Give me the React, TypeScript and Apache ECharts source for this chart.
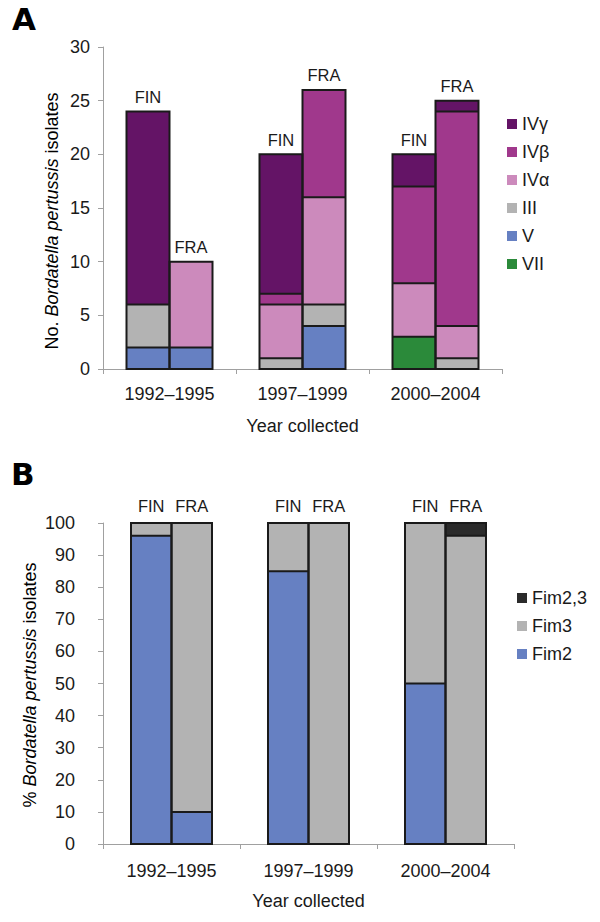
import React, { useEffect, useRef } from "react";
import * as echarts from "echarts";

// ---------- Data ----------
const years = ["1992–1995", "1997–1999", "2000–2004"];
const countries = ["FIN", "FRA"];

// Panel A: number of isolates (stack order bottom -> top)
const typesA = ["VII", "V", "III", "IVα", "IVβ", "IVγ"];
const legendA = ["IVγ", "IVβ", "IVα", "III", "V", "VII"];
const colorsA = ["#2b8a3a", "#6680c2", "#b3b3b3", "#cc8abc", "#a0388c", "#641466"];
const finVII = [0, 0, 3];
const finV = [2, 0, 0];
const finIII = [4, 1, 0];
const finIValpha = [0, 5, 5];
const finIVbeta = [0, 1, 9];
const finIVgamma = [18, 13, 3];
const fraVII = [0, 0, 0];
const fraV = [2, 4, 0];
const fraIII = [0, 2, 1];
const fraIValpha = [8, 10, 3];
const fraIVbeta = [0, 10, 20];
const fraIVgamma = [0, 0, 1];
const yTicksA = { min: 0, max: 30, interval: 5 };

// Panel B: percentage of isolates (stack order bottom -> top)
const typesB = ["Fim2", "Fim3", "Fim2,3"];
const legendB = ["Fim2,3", "Fim3", "Fim2"];
const colorsB = ["#6680c2", "#b3b3b3", "#2b2b2b"];
const finFim2 = [96, 85, 50];
const finFim3 = [4, 15, 50];
const finFim23 = [0, 0, 0];
const fraFim2 = [10, 0, 0];
const fraFim3 = [90, 100, 96];
const fraFim23 = [0, 0, 4];
const yTicksB = { min: 0, max: 100, interval: 10 };

const FONT = '"Liberation Sans", Arial, Helvetica, sans-serif';
const TXT = "#1a1a1a";
const AXIS = "#a0a0a0";
const EDGE = "#1a1a1a";
const FS = 18;

export default function App() {
  const ref = useRef<HTMLDivElement>(null);

  useEffect(() => {
    if (!ref.current) return;
    const chart = echarts.init(ref.current, undefined, { renderer: "svg" });

    const dataA: Record<string, number[][]> = {
      FIN: [finVII, finV, finIII, finIValpha, finIVbeta, finIVgamma],
      FRA: [fraVII, fraV, fraIII, fraIValpha, fraIVbeta, fraIVgamma],
    };
    const dataB: Record<string, number[][]> = {
      FIN: [finFim2, finFim3, finFim23],
      FRA: [fraFim2, fraFim3, fraFim23],
    };

    const series: any[] = [];
    const addPanel = (
      idx: number,
      types: string[],
      colors: string[],
      data: Record<string, number[][]>,
      barWidth: number,
      labelDist: number
    ) => {
      // filled segments
      countries.forEach((c) => {
        types.forEach((t, i) => {
          series.push({
            type: "bar",
            name: t,
            stack: c + idx,
            xAxisIndex: idx,
            yAxisIndex: idx,
            barWidth,
            barGap: "0%",
            data: data[c][i].map((v) => (v === 0 ? "-" : v)),
            itemStyle: { color: colors[i], borderWidth: 0 },
            emphasis: { disabled: true },
            silent: true,
          });
        });
        // FIN / FRA label on top of each stack
        series.push({
          type: "bar",
          name: c + " label " + idx,
          stack: c + idx,
          xAxisIndex: idx,
          yAxisIndex: idx,
          barWidth,
          barGap: "0%",
          data: years.map(() => 0),
          itemStyle: { color: "transparent", borderWidth: 0 },
          label: {
            show: true,
            position: "top",
            distance: labelDist,
            formatter: c,
            fontSize: 16.5,
            fontFamily: FONT,
            color: TXT,
          },
          emphasis: { disabled: true },
          silent: true,
        });
      });

      // outlines: cumulative boundaries for each (year, country) stack
      const outlineData: number[][] = [];
      years.forEach((_, yi) => {
        countries.forEach((c, ci) => {
          let cum = 0;
          const row = [yi, ci];
          types.forEach((_, ti) => {
            cum += data[c][ti][yi];
            row.push(cum);
          });
          outlineData.push(row);
        });
      });
      const n = types.length;
      series.push({
        type: "custom",
        name: "outline " + idx,
        xAxisIndex: idx,
        yAxisIndex: idx,
        silent: true,
        z: 5,
        encode: { x: 0, y: 1 + n },
        data: outlineData,
        renderItem: (params: any, api: any) => {
          const cat = api.value(0);
          const side = api.value(1);
          const cums: number[] = [];
          for (let k = 0; k < n; k++) cums.push(api.value(2 + k));
          const total = cums[n - 1];
          const base = api.coord([cat, 0]);
          const x0 = base[0] + (side === 0 ? -barWidth : 0);
          const yTop = api.coord([cat, total])[1];
          const children: any[] = [
            {
              type: "rect",
              shape: { x: x0, y: yTop, width: barWidth, height: base[1] - yTop },
              style: { fill: "none", stroke: EDGE, lineWidth: 2 },
            },
          ];
          const seen: Record<string, boolean> = {};
          cums.forEach((v) => {
            if (v > 0 && v < total && !seen[v]) {
              seen[v] = true;
              const y = api.coord([cat, v])[1];
              children.push({
                type: "line",
                shape: { x1: x0, y1: y, x2: x0 + barWidth, y2: y },
                style: { stroke: EDGE, lineWidth: 2 },
              });
            }
          });
          return { type: "group", children };
        },
      });
    };
    addPanel(0, typesA, colorsA, dataA, 43, 6);
    addPanel(1, typesB, colorsB, dataB, 40.5, 9);

    const xAxis = (idx: number, margin: number) => ({
      type: "category",
      gridIndex: idx,
      data: years,
      axisLine: { show: true, lineStyle: { color: AXIS, width: 1 } },
      axisTick: { show: true, alignWithLabel: false, length: 5, lineStyle: { color: AXIS } },
      axisLabel: { fontSize: FS, fontFamily: FONT, color: TXT, margin, interval: 0 },
      name: "Year collected",
      nameLocation: "middle",
      nameGap: 48,
      nameTextStyle: { fontSize: FS, fontFamily: FONT, color: TXT },
    });
    const yAxis = (idx: number, t: { min: number; max: number; interval: number }, margin: number) => ({
      type: "value",
      gridIndex: idx,
      min: t.min,
      max: t.max,
      interval: t.interval,
      axisLine: { show: true, lineStyle: { color: AXIS, width: 1 } },
      axisTick: { show: true, length: 5, lineStyle: { color: AXIS } },
      splitLine: { show: false },
      axisLabel: { fontSize: FS, fontFamily: FONT, color: TXT, margin },
    });

    const rich = {
      n: { fontSize: FS, fontFamily: FONT, color: TXT },
      i: { fontSize: FS, fontFamily: FONT, color: TXT, fontStyle: "italic" },
    };

    const legendCommon = {
      orient: "vertical",
      itemWidth: 10,
      itemHeight: 10,
      itemGap: 10,
      icon: "rect",
      itemStyle: { borderWidth: 0 },
      textStyle: { fontSize: FS, fontFamily: FONT, color: TXT },
      selectedMode: false,
    };

    chart.setOption({
      animation: false,
      backgroundColor: "#ffffff",
      grid: [
        { left: 103, top: 47, width: 399, height: 322 },
        { left: 103, top: 523, width: 411, height: 321 },
      ],
      xAxis: [xAxis(0, 16), xAxis(1, 18)],
      yAxis: [yAxis(0, yTicksA, 13), yAxis(1, yTicksB, 28)],
      legend: [
        { ...legendCommon, data: legendA, left: 502, top: 110 },
        { ...legendCommon, data: legendB, left: 512, top: 584 },
      ],
      graphic: [
        {
          type: "text",
          x: 12,
          y: 19,
          style: {
            text: "A",
            fontSize: 31,
            fontWeight: 900,
            fontFamily: '"Arial Black", "DejaVu Sans", ' + FONT,
            fill: "#000",
            align: "left",
            verticalAlign: "middle",
          },
        },
        {
          type: "text",
          x: 11,
          y: 474,
          style: {
            text: "B",
            fontSize: 31,
            fontWeight: 900,
            fontFamily: '"Arial Black", "DejaVu Sans", ' + FONT,
            fill: "#000",
            align: "left",
            verticalAlign: "middle",
          },
        },
        {
          type: "text",
          x: 52,
          y: 221,
          rotation: Math.PI / 2,
          style: {
            text: "{n|No. }{i|Bordatella pertussis}{n| isolates}",
            rich,
            align: "center",
            verticalAlign: "middle",
          },
        },
        {
          type: "text",
          x: 30,
          y: 685,
          rotation: Math.PI / 2,
          style: {
            text: "{n|% }{i|Bordatella pertussis}{n| isolates}",
            rich,
            align: "center",
            verticalAlign: "middle",
          },
        },
      ],
      series,
    });

    return () => chart.dispose();
  }, []);

  return (
    <div
      ref={ref}
      style={{ position: "absolute", left: 0, top: 0, width: 600, height: 922, background: "#fff" }}
    />
  );
}
